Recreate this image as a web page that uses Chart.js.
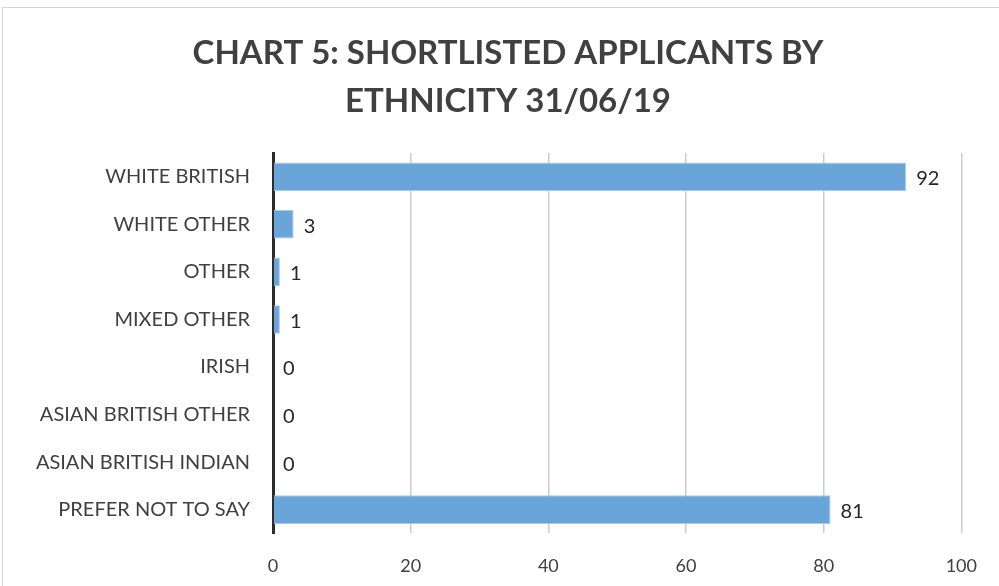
<!DOCTYPE html>
<html>
<head>
<meta charset="utf-8">
<script src="https://cdn.jsdelivr.net/npm/chart.js@4/dist/chart.umd.min.js"></script>
<style>
  html, body { margin: 0; padding: 0; background: #fff; }
  #wrap { position: relative; width: 999px; height: 586px; }
  #frame { position: absolute; left: 2px; top: 7px; width: 1010px; height: 600px; border: 1px solid #d4d4d4; box-sizing: border-box; pointer-events: none; }
</style>
</head>
<body>
<div id="wrap">
  <canvas id="chart" width="999" height="586"></canvas>
  <div id="frame"></div>
</div>
<script>
// ethnicity categories and shortlisted counts
const categories = [
  'WHITE BRITISH',
  'WHITE OTHER',
  'OTHER',
  'MIXED OTHER',
  'IRISH',
  'ASIAN BRITISH OTHER',
  'ASIAN BRITISH INDIAN',
  'PREFER NOT TO SAY'
];
const applicants = [92, 3, 1, 1, 0, 0, 0, 81];
const xTicks = [0, 20, 40, 60, 80, 100];
const titleLines = ['CHART 5: SHORTLISTED APPLICANTS BY', 'ETHNICITY 31/06/19'];

const textColor = '#404040';

// title is centred on the whole chart frame, which runs past the right edge
const frameTitle = {
  id: 'frameTitle',
  afterDraw(chart) {
    const ctx = chart.ctx;
    ctx.save();
    ctx.font = 'bold 33px Lato';
    ctx.fillStyle = '#404040';
    ctx.textAlign = 'center';
    ctx.textBaseline = 'middle';
    titleLines.forEach((line, i) => {
      ctx.fillText(line, 508, 53 + i * 48);
    });
    ctx.restore();
  }
};

// writes the count just past the end of each bar
const valueLabels = {
  id: 'valueLabels',
  afterDatasetsDraw(chart) {
    const ctx = chart.ctx;
    const meta = chart.getDatasetMeta(0);
    ctx.save();
    ctx.font = '20px Lato';
    ctx.fillStyle = '#262626';
    ctx.textBaseline = 'middle';
    ctx.textAlign = 'left';
    meta.data.forEach((bar, i) => {
      ctx.fillText(String(applicants[i]), bar.x + 10, bar.y + 2);
    });
    ctx.restore();
  }
};

const ctx = document.getElementById('chart').getContext('2d');
new Chart(ctx, {
  type: 'bar',
  data: {
    labels: categories,
    datasets: [{
      label: 'Shortlisted applicants',
      data: applicants,
      backgroundColor: '#6aa5da',
      borderColor: '#a9cbea',
      borderWidth: 1,
      barPercentage: 0.6,
      categoryPercentage: 1
    }]
  },
  options: {
    indexAxis: 'y',
    responsive: false,
    animation: false,
    layout: { padding: { top: 153, right: 29, bottom: 0, left: 15 } },
    plugins: {
      legend: { display: false },
      tooltip: { enabled: false },
      title: { display: false }
    },
    scales: {
      x: {
        min: 0,
        max: 100,
        afterBuildTicks(scale) {
          scale.ticks = xTicks.map(v => ({ value: v }));
        },
        afterFit(scale) { scale.height = scale.height - 13; },
        grid: { color: '#cccccc', lineWidth: 1.5, drawTicks: false },
        border: { display: false },
        ticks: {
          color: textColor,
          font: { family: 'Lato', size: 18 },
          padding: 22
        }
      },
      y: {
        grid: { display: false },
        border: { display: true, color: '#2b2b2b', width: 3 },
        afterFit(scale) { scale.width = 258; },
        ticks: {
          color: textColor,
          font: { family: 'Lato', size: 20 },
          padding: 15
        }
      }
    }
  },
  plugins: [valueLabels, frameTitle]
});
</script>
</body>
</html>
